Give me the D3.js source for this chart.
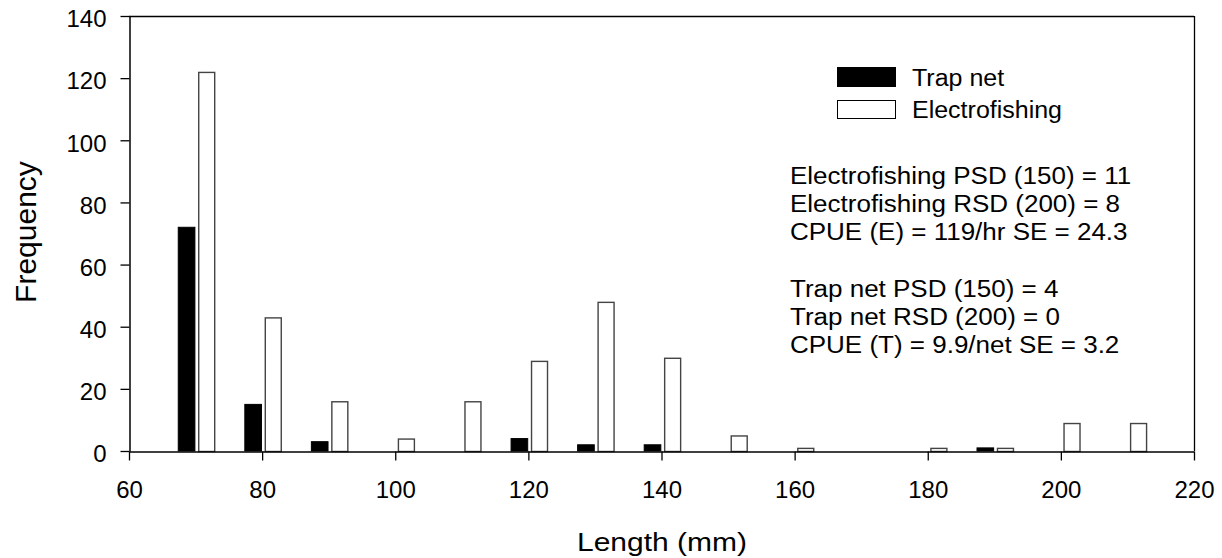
<!DOCTYPE html>
<html><head><meta charset="utf-8">
<script src="https://cdn.jsdelivr.net/npm/d3@7"></script>
<style>body{margin:0;background:#fff;} svg{display:block;font-family:"Liberation Sans",Arial,sans-serif;}</style>
</head><body><svg id="c" width="1222" height="558"></svg>
<script>
const lengths = [70, 80, 90, 100, 110, 120, 130, 140, 150, 160, 170, 180, 190, 200, 210];
const trapNet = [72, 15, 3, 0, 0, 4, 2, 2, 0, 0, 0, 0, 1, 0, 0];
const electrofishing = [122, 43, 16, 4, 16, 29, 48, 30, 5, 1, 0, 1, 1, 9, 9];
const xTicks = [60, 80, 100, 120, 140, 160, 180, 200, 220];
const yTicks = [0, 20, 40, 60, 80, 100, 120, 140];
const seriesNames = ["Trap net", "Electrofishing"];
const statsLines = ["Electrofishing PSD (150) = 11", "Electrofishing RSD (200) = 8", "CPUE (E) = 119/hr SE = 24.3", "", "Trap net PSD (150) = 4", "Trap net RSD (200) = 0", "CPUE (T) = 9.9/net SE = 3.2"];

const svg = d3.select("#c");
const L = 129, R = 1194, T = 16, B = 451;
const x = d3.scaleLinear().domain([60, 220]).range([L, R]);
const y = d3.scaleLinear().domain([0, 140]).range([B, T]);

// frame top/right
svg.append("line").attr("x1", L).attr("x2", R).attr("y1", T + 0.5).attr("y2", T + 0.5).attr("stroke", "#000").attr("stroke-width", 1.3);
svg.append("line").attr("x1", R + 0.5).attr("x2", R + 0.5).attr("y1", T).attr("y2", B).attr("stroke", "#000").attr("stroke-width", 1.3);

// bars
const g = svg.append("g");
g.selectAll(".tn").data(lengths.map((l, i) => ({l, v: trapNet[i]})).filter(d => d.v > 0))
  .enter().append("rect")
  .attr("x", d => x(d.l - 2.6)).attr("width", d => x(d.l - 0.1) - x(d.l - 2.6))
  .attr("y", d => y(d.v)).attr("height", d => y(0) - y(d.v))
  .attr("fill", "#000").attr("stroke", "#000").attr("stroke-width", 1);
g.selectAll(".ef").data(lengths.map((l, i) => ({l, v: electrofishing[i]})).filter(d => d.v > 0))
  .enter().append("rect")
  .attr("x", d => x(d.l + 0.4) + 0.5).attr("width", d => x(d.l + 2.8) - x(d.l + 0.4))
  .attr("y", d => y(d.v) + 0.5).attr("height", d => y(0) - y(d.v))
  .attr("fill", "#fff").attr("stroke", "#444").attr("stroke-width", 1.4);

// axes
const xa = svg.append("g").attr("transform", `translate(0,${B + 0.5})`)
  .call(d3.axisBottom(x).tickValues(xTicks).tickSize(9).tickSizeOuter(0).tickPadding(20));
const ya = svg.append("g").attr("transform", `translate(${L + 0.5},0)`)
  .call(d3.axisLeft(y).tickValues(yTicks).tickSize(9).tickSizeOuter(0).tickPadding(14));
[xa, ya].forEach(a => {
  a.select(".domain").attr("stroke", "#000").attr("stroke-width", 1.5);
  a.selectAll(".tick line").attr("stroke", "#000").attr("stroke-width", 1.3);
  a.selectAll("text").attr("font-size", 24).attr("fill", "#000").attr("font-family", "Liberation Sans, Arial, sans-serif");
});
ya.selectAll("text").attr("dy", "0.45em");

// axis titles
svg.append("text").attr("transform", `translate(662,551) scale(1,0.86)`).attr("text-anchor", "middle")
  .attr("font-size", 30).text("Length (mm)");
svg.append("text").attr("transform", `translate(36,232) rotate(-90)`).attr("text-anchor", "middle")
  .attr("font-size", 30).text("Frequency");

// legend
const lg = svg.append("g");
lg.append("rect").attr("x", 837).attr("y", 67).attr("width", 59).attr("height", 20).attr("fill", "#000");
lg.append("rect").attr("x", 837.5).attr("y", 100.5).attr("width", 58).attr("height", 18).attr("fill", "#fff").attr("stroke", "#000");
lg.append("text").attr("transform", "translate(912,86) scale(1,0.95)").attr("font-size", 25).text(seriesNames[0]);
lg.append("text").attr("transform", "translate(912,118) scale(1,0.95)").attr("font-size", 25).text(seriesNames[1]);

// stats
statsLines.forEach((s, i) => {
  svg.append("text").attr("transform", `translate(790,${184 + i * 28.2}) scale(1,0.92)`).attr("font-size", 26).text(s);
});
</script></body></html>
